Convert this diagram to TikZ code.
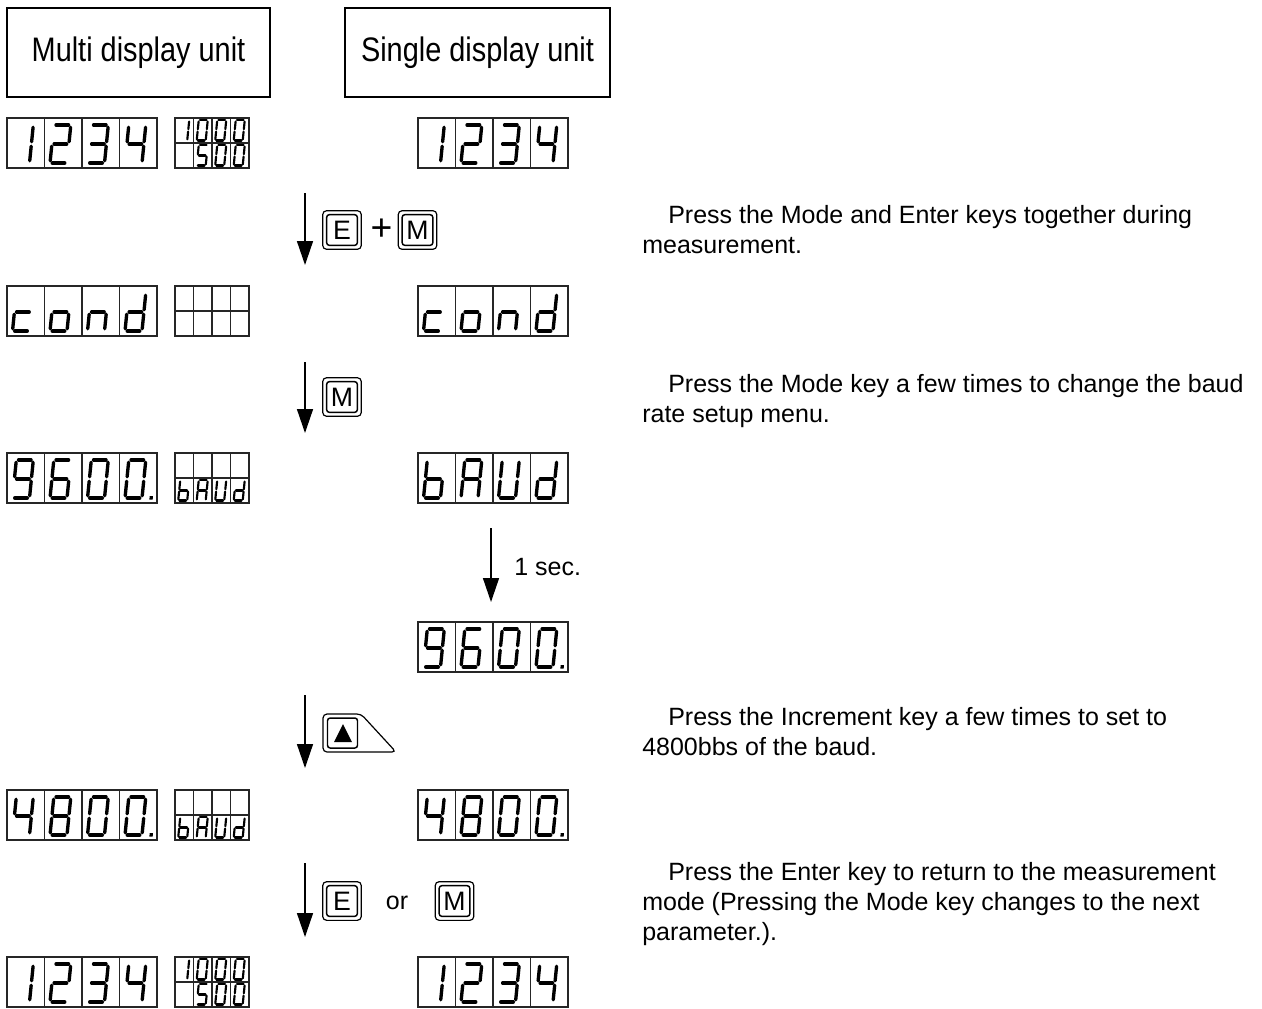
\documentclass[tikz,border=0pt]{standalone}
\usepackage{fontspec}
\setmainfont{Liberation Sans}
\usepackage{graphicx}
\usetikzlibrary{arrows.meta}

\tikzset{
  dispbox/.style={draw=black!85, line width=0.8pt, inner sep=0pt, outer sep=0pt, anchor=north west, minimum width=112.5pt, minimum height=37.5pt},
  smallbox/.style={dispbox, minimum width=55.5pt},
  dispgrid/.style={draw=black!85, line width=0.8pt},
  segline/.style={line width=2.5pt, line cap=round},
  flow/.style={line width=1.1pt, -{Triangle[width=12pt,length=18pt]}},
  headbox/.style={draw, line width=1.1pt, inner sep=0pt, minimum height=66.75pt, font=\fontsize{25.5pt}{30pt}\selectfont},
  keyouter/.style={draw, rounded corners=3pt, line width=0.9pt, minimum size=29pt, inner sep=0pt},
  keyinner/.style={draw, rounded corners=2pt, line width=1.1pt, minimum size=23pt, inner sep=0pt, font=\fontsize{20pt}{24pt}\selectfont},
  bodytext/.style={font=\fontsize{18.75pt}{22.5pt}\selectfont, inner sep=0pt, anchor=base west},
}

% seven-segment pieces (local coords, origin at digit bottom-left, y negative = up)
\def\SA{\draw[segline] (2.2,-38) -- (14.8,-38);}
\def\SB{\draw[segline] (17,-35.8) -- (17,-21.2);}
\def\SC{\draw[segline] (17,-16.8) -- (17,-2.2);}
\def\SD{\draw[segline] (2.2,0) -- (14.8,0);}
\def\SE{\draw[segline] (0,-2.2) -- (0,-16.8);}
\def\SF{\draw[segline] (0,-21.2) -- (0,-35.8);}
\def\SG{\draw[segline] (2.2,-19) -- (14.8,-19);}
\def\SP{\fill (24.5,-1.8) rectangle (27.8,1.5);}
\def\Done{\SB\SC}
\def\Dtwo{\SA\SB\SG\SE\SD}
\def\Dthree{\SA\SB\SG\SC\SD}
\def\Dfour{\SF\SG\SB\SC}
\def\Dfive{\SA\SF\SG\SC\SD}
\def\Dsix{\SA\SF\SG\SE\SC\SD}
\def\Deight{\SA\SB\SC\SD\SE\SF\SG}
\def\Dnine{\SA\SB\SF\SG\SC\SD}
\def\Dzero{\SA\SB\SC\SD\SE\SF}
\def\Lc{\SG\SE\SD}
\def\Lo{\SG\SC\SD\SE}
\def\Ln{\SG\SE\SC}
\def\Ld{\SB\SC\SD\SE\SG}
\def\Lb{\SF\SE\SD\SC\SG}
\def\LA{\SA\SB\SC\SE\SF\SG}
\def\LU{\SB\SC\SD\SE\SF}

\newcommand{\digit}[5]{%
  \begin{scope}[shift={({#1},{#2})},scale=#4,xslant=0.1,segline/.append style={line width=#5}]
    #3
  \end{scope}}

\newcommand{\bigdisp}[7]{%
  \node[dispbox] (#1) at (#2,#3) {};
  \foreach \k in {1,2,3} {\draw[dispgrid] ({#2+37.5*\k},#3) -- ({#2+37.5*\k},{#3+50});}
  \digit{#2+5.5}{#3+45}{#4}{1}{2.5pt}
  \digit{#2+43}{#3+45}{#5}{1}{2.5pt}
  \digit{#2+80.5}{#3+45}{#6}{1}{2.5pt}
  \digit{#2+118}{#3+45}{#7}{1}{2.5pt}}

\newcommand{\smalldisp}[3]{%
  \node[smallbox] (#1) at (#2,#3) {};
  \draw[dispgrid] (#2,{#3+25}) -- ({#2+74},{#3+25});
  \foreach \k in {1,2,3} {\draw[dispgrid] ({#2+18.5*\k},#3) -- ({#2+18.5*\k},{#3+50});}}

% small digit: X, Y of display, column, row, segments
\newcommand{\sdig}[5]{\digit{#1+18.5*#3+3.2}{#2+25*#4+22.5}{#5}{0.53}{1.6pt}}

\newcommand{\keybox}[4]{%
  \node[keyouter] (#1) at (#2,#3) {};
  \node[keyinner] (#1i) at (#1.center) {#4};}

\begin{document}
\begin{tikzpicture}[x=0.75pt,y=-0.75pt]
\useasboundingbox (0,0) rectangle (1262,1008);

% headers
\node[headbox, minimum width=197.25pt] (h1) at (138.5,52.5) {\scalebox{0.85}[1]{Multi display unit}};
\node[headbox, minimum width=198.75pt] (h2) at (477.5,52.5) {\scalebox{0.85}[1]{Single display unit}};

% row 1
\bigdisp{m1}{7}{118}{\Done}{\Dtwo}{\Dthree}{\Dfour}
\smalldisp{s1}{175}{118}
\sdig{175}{118}{0}{0}{\Done}\sdig{175}{118}{1}{0}{\Dzero}\sdig{175}{118}{2}{0}{\Dzero}\sdig{175}{118}{3}{0}{\Dzero}
\sdig{175}{118}{1}{1}{\Dfive}\sdig{175}{118}{2}{1}{\Dzero}\sdig{175}{118}{3}{1}{\Dzero}
\bigdisp{u1}{418}{118}{\Done}{\Dtwo}{\Dthree}{\Dfour}

% row 2
\bigdisp{m2}{7}{286}{\Lc}{\Lo}{\Ln}{\Ld}
\smalldisp{s2}{175}{286}
\bigdisp{u2}{418}{286}{\Lc}{\Lo}{\Ln}{\Ld}

% row 3
\bigdisp{m3}{7}{453}{\Dnine}{\Dsix}{\Dzero}{\Dzero\SP}
\smalldisp{s3}{175}{453}
\sdig{175}{453}{0}{1}{\Lb}\sdig{175}{453}{1}{1}{\LA}\sdig{175}{453}{2}{1}{\LU}\sdig{175}{453}{3}{1}{\Ld}
\bigdisp{u3}{418}{453}{\Lb}{\LA}{\LU}{\Ld}

% row 4
\bigdisp{u4}{418}{622}{\Dnine}{\Dsix}{\Dzero}{\Dzero\SP}

% row 5
\bigdisp{m5}{7}{790}{\Dfour}{\Deight}{\Dzero}{\Dzero\SP}
\smalldisp{s5}{175}{790}
\sdig{175}{790}{0}{1}{\Lb}\sdig{175}{790}{1}{1}{\LA}\sdig{175}{790}{2}{1}{\LU}\sdig{175}{790}{3}{1}{\Ld}
\bigdisp{u5}{418}{790}{\Dfour}{\Deight}{\Dzero}{\Dzero\SP}

% row 6
\bigdisp{m6}{7}{957}{\Done}{\Dtwo}{\Dthree}{\Dfour}
\smalldisp{s6}{175}{957}
\sdig{175}{957}{0}{0}{\Done}\sdig{175}{957}{1}{0}{\Dzero}\sdig{175}{957}{2}{0}{\Dzero}\sdig{175}{957}{3}{0}{\Dzero}
\sdig{175}{957}{1}{1}{\Dfive}\sdig{175}{957}{2}{1}{\Dzero}\sdig{175}{957}{3}{1}{\Dzero}
\bigdisp{u6}{418}{957}{\Done}{\Dtwo}{\Dthree}{\Dfour}

% arrows
\coordinate (a1t) at (305,193); \coordinate (a1b) at (305,265);
\coordinate (a2t) at (305,362); \coordinate (a2b) at (305,433);
\coordinate (a3t) at (491,528); \coordinate (a3b) at (491,602);
\coordinate (a4t) at (305,695); \coordinate (a4b) at (305,768);
\coordinate (a5t) at (305,863); \coordinate (a5b) at (305,937);
\draw[flow] (a1t) -- (a1b);
\draw[flow] (a2t) -- (a2b);
\draw[flow] (a3t) -- (a3b);
\draw[flow] (a4t) -- (a4b);
\draw[flow] (a5t) -- (a5b);

% keys
\keybox{k1e}{342}{230}{E}
\node[font=\fontsize{28pt}{32pt}\selectfont, inner sep=0pt] (plus) at (381.5,230) {+};
\keybox{k1m}{417.5}{230}{M}
\keybox{k2m}{342}{397}{M}
% increment key
\draw[line width=0.9pt, rounded corners=3pt] (323,752) -- (323,714) -- (361,714) -- (396,752) -- cycle;
\node[keyinner, minimum size=22.5pt] (k4) at (342.5,733) {};
\fill (343,724) -- (352,742) -- (334,742) -- cycle;
\keybox{k5e}{342}{901}{E}
\node[bodytext, anchor=center] (or) at (397,903) {or};
\keybox{k5m}{454.5}{901}{M}

\node[bodytext] (sec) at (514,575) {1 sec.};

% descriptions
\node[bodytext] (t1a) at (668,223) {Press the Mode and Enter keys together during};
\node[bodytext] (t1b) at (642,253) {measurement.};
\node[bodytext] (t2a) at (668,392) {Press the Mode key a few times to change the baud};
\node[bodytext] (t2b) at (642,422) {rate setup menu.};
\node[bodytext] (t3a) at (668,725) {Press the Increment key a few times to set to};
\node[bodytext] (t3b) at (642,755) {4800bbs of the baud.};
\node[bodytext] (t4a) at (668,880) {Press the Enter key to return to the measurement};
\node[bodytext] (t4b) at (642,910) {mode (Pressing the Mode key changes to the next};
\node[bodytext] (t4c) at (642,940) {parameter.).};
\end{tikzpicture}
\end{document}
